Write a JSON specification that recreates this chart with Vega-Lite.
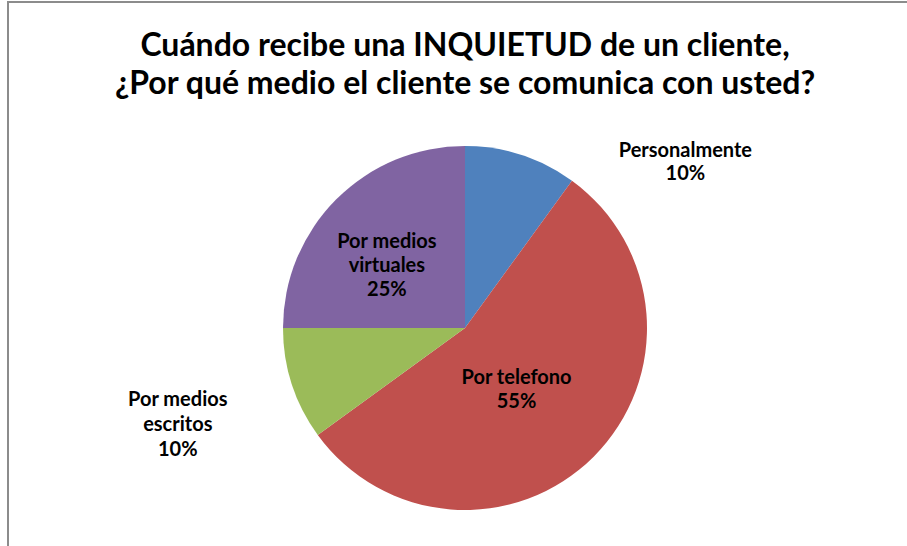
{
  "$schema": "https://vega.github.io/schema/vega-lite/v6.json",
  "width": 914,
  "height": 652,
  "autosize": "none",
  "padding": {"left": 8, "top": 2, "right": -15, "bottom": -108},
  "background": "white",
  "config": {"view": {"stroke": null}},
  "title": {
    "text": ["Cuándo recibe una INQUIETUD de un cliente,", "¿Por qué medio el cliente se comunica con usted?"],
    "font": "Lato",
    "fontSize": 32,
    "fontWeight": "bold",
    "color": "#000000",
    "lineHeight": 38,
    "offset": -100,
    "anchor": "middle"
  },
  "data": {
    "values": [
      {"o": 1, "cat": "Personalmente", "v": 10, "label": "Personalmente\n10%"},
      {"o": 2, "cat": "Por telefono", "v": 55, "label": "Por telefono\n55%"},
      {"o": 3, "cat": "Por medios escritos", "v": 10, "label": "Por medios\nescritos\n10%"},
      {"o": 4, "cat": "Por medios virtuales", "v": 25, "label": "Por medios\nvirtuales\n25%"}
    ]
  },
  "layer": [
    {
      "data": {"values": [{"frame": "border"}]},
      "mark": {"type": "rect", "fill": null, "fillOpacity": 0, "stroke": "#8c8c8c", "strokeWidth": 2},
      "encoding": {
        "x": {"value": 0},
        "x2": {"value": "width"},
        "y": {"value": 0},
        "y2": {"value": "height"}
      }
    },
    {
      "mark": {"type": "arc", "radius": 182},
      "encoding": {
        "theta": {"field": "v", "type": "quantitative", "stack": true},
        "order": {"field": "o", "type": "quantitative"},
        "color": {
          "field": "cat",
          "type": "nominal",
          "scale": {
            "domain": ["Personalmente", "Por telefono", "Por medios escritos", "Por medios virtuales"],
            "range": ["#4F81BD", "#C0504D", "#9BBB59", "#8064A2"]
          },
          "legend": null
        }
      }
    },
    {
      "mark": {"type": "text", "radius": 176, "dx": 166, "dy": -10, "font": "Lato", "fontSize": 20, "fontWeight": "bold", "lineBreak": "\n", "lineHeight": 23, "color": "#000000", "baseline": "middle", "align": "center"},
      "encoding": {
        "theta": {"field": "v", "type": "quantitative", "stack": true},
        "order": {"field": "o", "type": "quantitative"},
        "text": {"condition": {"test": "datum.cat === 'Personalmente'", "field": "label"}, "value": ""}
      }
    },
    {
      "mark": {"type": "text", "radius": 80, "dx": -5, "dy": -7, "font": "Lato", "fontSize": 20, "fontWeight": "bold", "lineBreak": "\n", "lineHeight": 24, "color": "#000000", "baseline": "middle", "align": "center"},
      "encoding": {
        "theta": {"field": "v", "type": "quantitative", "stack": true},
        "order": {"field": "o", "type": "quantitative"},
        "text": {"condition": {"test": "datum.cat === 'Por telefono'", "field": "label"}, "value": ""}
      }
    },
    {
      "mark": {"type": "text", "radius": 302, "dy": -21, "font": "Lato", "fontSize": 20, "fontWeight": "bold", "lineBreak": "\n", "lineHeight": 25, "color": "#000000", "baseline": "middle", "align": "center"},
      "encoding": {
        "theta": {"field": "v", "type": "quantitative", "stack": true},
        "order": {"field": "o", "type": "quantitative"},
        "text": {"condition": {"test": "datum.cat === 'Por medios escritos'", "field": "label"}, "value": ""}
      }
    },
    {
      "mark": {"type": "text", "radius": 102, "dx": -6, "dy": -14, "font": "Lato", "fontSize": 20, "fontWeight": "bold", "lineBreak": "\n", "lineHeight": 24, "color": "#000000", "baseline": "middle", "align": "center"},
      "encoding": {
        "theta": {"field": "v", "type": "quantitative", "stack": true},
        "order": {"field": "o", "type": "quantitative"},
        "text": {"condition": {"test": "datum.cat === 'Por medios virtuales'", "field": "label"}, "value": ""}
      }
    }
  ]
}
